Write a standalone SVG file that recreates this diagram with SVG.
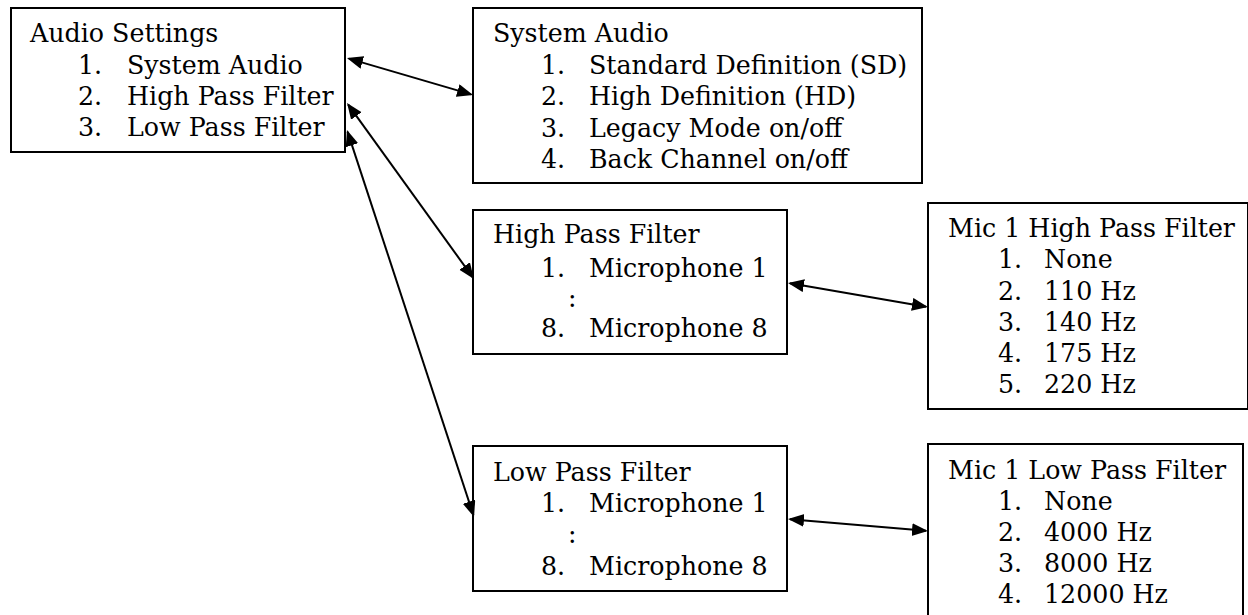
<svg xmlns="http://www.w3.org/2000/svg" width="1248" height="615" viewBox="0 0 1248 615">
<style>
.box{fill:#fff;stroke:#000;stroke-width:2}
text{font-family:"DejaVu Serif","Liberation Serif",serif;font-size:25.3px;fill:#000}
.con{stroke:#000;stroke-width:2;fill:none;marker-start:url(#ah);marker-end:url(#ah)}
</style>
<defs>
<marker id="ah" markerUnits="userSpaceOnUse" markerWidth="18" markerHeight="14" refX="14" refY="6.5" orient="auto-start-reverse">
<path d="M0,0 L16,6.5 L0,13 z" fill="#000"/>
</marker>
</defs>
<rect width="1248" height="615" fill="#fff"/>
<g id="audio-settings">
<rect class="box" x="11" y="8" width="334" height="144"/>
<text x="30" y="42">Audio Settings</text>
<text x="78" y="74">1.</text><text x="127" y="74">System Audio</text>
<text x="78" y="105">2.</text><text x="127" y="105">High Pass Filter</text>
<text x="78" y="136">3.</text><text x="127" y="136">Low Pass Filter</text>
</g>
<g id="system-audio">
<rect class="box" x="473" y="8" width="449" height="175"/>
<text x="493" y="42">System Audio</text>
<text x="541" y="74">1.</text><text x="589" y="74">Standard Definition (SD)</text>
<text x="541" y="105">2.</text><text x="589" y="105">High Definition (HD)</text>
<text x="541" y="137">3.</text><text x="589" y="137">Legacy Mode on/off</text>
<text x="541" y="168">4.</text><text x="589" y="168">Back Channel on/off</text>
</g>
<g id="high-pass-filter">
<rect class="box" x="473" y="210" width="314" height="144"/>
<text x="493" y="243">High Pass Filter</text>
<text x="541" y="277">1.</text><text x="589" y="277">Microphone 1</text>
<text x="568" y="307">:</text>
<text x="541" y="337">8.</text><text x="589" y="337">Microphone 8</text>
</g>
<g id="mic1-high-pass-filter">
<rect class="box" x="928" y="203" width="320" height="206"/>
<text x="948" y="237">Mic 1 High Pass Filter</text>
<text x="998" y="268">1.</text><text x="1044" y="268">None</text>
<text x="998" y="300">2.</text><text x="1044" y="300">110 Hz</text>
<text x="998" y="331">3.</text><text x="1044" y="331">140 Hz</text>
<text x="998" y="362">4.</text><text x="1044" y="362">175 Hz</text>
<text x="998" y="393">5.</text><text x="1044" y="393">220 Hz</text>
</g>
<g id="low-pass-filter">
<rect class="box" x="473" y="446" width="314" height="145"/>
<text x="493" y="481">Low Pass Filter</text>
<text x="541" y="512">1.</text><text x="589" y="512">Microphone 1</text>
<text x="568" y="543">:</text>
<text x="541" y="575">8.</text><text x="589" y="575">Microphone 8</text>
</g>
<g id="mic1-low-pass-filter">
<rect class="box" x="928" y="444" width="315" height="190"/>
<text x="948" y="479">Mic 1 Low Pass Filter</text>
<text x="998" y="510">1.</text><text x="1044" y="510">None</text>
<text x="998" y="541">2.</text><text x="1044" y="541">4000 Hz</text>
<text x="998" y="572">3.</text><text x="1044" y="572">8000 Hz</text>
<text x="998" y="603">4.</text><text x="1044" y="603">12000 Hz</text>
</g>
<g id="connectors">
<line class="con" x1="348.9" y1="58.6" x2="471.1" y2="94.4"/>
<line class="con" x1="348.2" y1="104.6" x2="472.8" y2="277.4"/>
<line class="con" x1="347.6" y1="131.9" x2="473.4" y2="515.1"/>
<line class="con" x1="790" y1="283.3" x2="926" y2="306.7"/>
<line class="con" x1="790" y1="519.2" x2="926" y2="530.8"/>
</g>
</svg>
